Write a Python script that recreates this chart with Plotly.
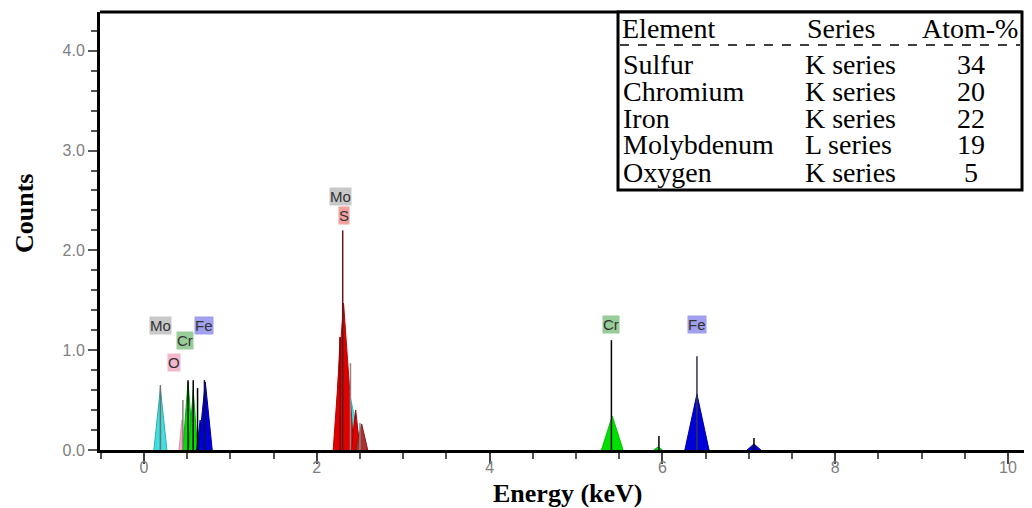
import plotly.graph_objects as go

# ---------------- data ----------------
# spectrum peaks (drawn as filled triangles): energy keV, half-width keV, height counts
peak_energy = [0.19, 2.37, 0.44, 0.51, 0.57, 5.42, 5.95, 0.65, 0.71, 6.40, 7.06, 2.27, 2.31, 2.45, 2.52]
peak_halfwidth = [0.075, 0.15, 0.035, 0.06, 0.05, 0.125, 0.05, 0.04, 0.08, 0.14, 0.08, 0.06, 0.12, 0.05, 0.07]
peak_height = [0.62, 0.60, 0.30, 0.68, 0.60, 0.34, 0.03, 0.30, 0.68, 0.56, 0.06, 1.13, 1.47, 0.40, 0.26]
peak_color = ["#40e0e0", "#40e0e0", "#f4a6bf", "#00e000", "#00e000", "#00e000", "#00e000",
              "#0000d8", "#0000d8", "#0000d8", "#0000d8", "#e00000", "#e00000", "#e00000", "#b03030"]
peak_edge = ["#30b0b0", "#30c0c0", "#e090a8", "#00b000", "#00b000", "#00c000", "#00b000",
             "#0000a0", "#0000a0", "#0000a8", "#0000a0", "#c00000", "#c00000", "#a00000", "#802020"]

# spectrum spikes: energy keV, height counts
spike_energy = [0.19, 0.45, 0.51, 0.57, 0.62, 0.70, 2.30, 2.27, 2.39, 2.50, 5.41, 5.96, 6.40, 7.06]
spike_height = [0.65, 0.50, 0.70, 0.70, 0.62, 0.70, 2.20, 1.13, 0.87, 0.27, 1.10, 0.14, 0.94, 0.12]
spike_color = ["#707070", "#808080", "#000000", "#000000", "#000000", "#101040", "#5a1a1a", "#6a1010",
               "#888888", "#888888", "#000000", "#000000", "#303050", "#000000"]

# element labels
label_text = ["Mo", "Fe", "Cr", "O", "Mo", "S", "Cr", "Fe"]
label_x = [0.19, 0.689, 0.471, 0.351, 2.28, 2.315, 5.405, 6.40]
label_y = [1.252, 1.252, 1.100, 0.880, 2.536, 2.347, 1.255, 1.255]
label_bg = ["#c8c8c8", "#a0a0ee", "#98cc98", "#f4b8cc", "#c8c8c8", "#f2a0a0", "#98cc98", "#a0a0ee"]

# quantification table
tbl_header = ["Element", "Series", "Atom-%"]
tbl_element = ["Sulfur", "Chromium", "Iron", "Molybdenum", "Oxygen"]
tbl_series = ["K series", "K series", "K series", "L series", "K series"]
tbl_atom = ["34", "20", "22", "19", "5"]

x_range = [-0.509, 10.278]
y_range = [0.0, 4.388]

# ---------------- figure ----------------
# the page has an 8px body margin, so the figure is offset by OFF in the window
OFF = 8
W, H = 1032 - OFF, 508 - OFF
ML, MR, MT, MB = 100 - OFF, 0, 12 - OFF, 66 - OFF
PW, PH = W - ML - MR, H - MT - MB


def px_x(p):  # page pixel -> paper x
    return (p - OFF - ML) / PW


def px_y(p):  # page pixel -> paper y
    return (H - MB - (p - OFF)) / PH


fig = go.Figure()

for e, hw, h, c, ec in zip(peak_energy, peak_halfwidth, peak_height, peak_color, peak_edge):
    fig.add_trace(go.Scatter(x=[e - hw, e, e + hw], y=[0, h, 0], mode="lines",
                             fill="toself", fillcolor=c, line=dict(color=ec, width=1),
                             hoverinfo="skip"))

for e, h, c in zip(spike_energy, spike_height, spike_color):
    fig.add_trace(go.Scatter(x=[e, e], y=[0, h], mode="lines",
                             line=dict(color=c, width=1.5), hoverinfo="skip"))

annotations = []
for t, x, y, bg in zip(label_text, label_x, label_y, label_bg):
    annotations.append(dict(text=t, x=x, y=y, xref="x", yref="y", showarrow=False,
                            xanchor="center", yanchor="middle",
                            bgcolor=bg, borderpad=0,
                            font=dict(family="Liberation Sans, Arial, sans-serif", size=15, color="#333333")))

serif = "Liberation Serif, Times New Roman, serif"
tfont = dict(family=serif, size=28, color="black")
row_y = [29, 64, 91, 118, 145, 172]
col_x = [620, 805, 920]
for t, cx in zip(tbl_header, col_x):
    annotations.append(dict(text=t, x=px_x(cx), y=px_y(row_y[0]), xref="paper", yref="paper",
                            xanchor="left", yanchor="middle", showarrow=False, font=tfont))
for i, (el, se, at) in enumerate(zip(tbl_element, tbl_series, tbl_atom)):
    yy = px_y(row_y[i + 1])
    annotations.append(dict(text=el, x=px_x(621), y=yy, xref="paper", yref="paper",
                            xanchor="left", yanchor="middle", showarrow=False, font=tfont))
    annotations.append(dict(text=se, x=px_x(803), y=yy, xref="paper", yref="paper",
                            xanchor="left", yanchor="middle", showarrow=False, font=tfont))
    annotations.append(dict(text=at, x=px_x(971), y=yy, xref="paper", yref="paper",
                            xanchor="center", yanchor="middle", showarrow=False, font=tfont))

tfont_b = dict(family=serif, size=26, color="black")
annotations.append(dict(text="<b>Counts</b>", x=px_x(24), y=px_y(214), xref="paper", yref="paper",
                        xanchor="center", yanchor="middle",
                        textangle=-90, showarrow=False, font=tfont_b))
annotations.append(dict(text="<b>Energy (keV)</b>", x=px_x(567), y=px_y(493), xref="paper", yref="paper",
                        xanchor="center", yanchor="middle",
                        showarrow=False, font=tfont_b))

shapes = [
    dict(type="line", xref="paper", yref="paper", x0=0, x1=px_x(1022), y0=1, y1=1,
         line=dict(color="black", width=3)),
    dict(type="rect", xref="paper", yref="paper", x0=px_x(618), x1=px_x(1022), y0=px_y(190), y1=1,
         line=dict(color="black", width=3), fillcolor="white", layer="above"),
    dict(type="line", xref="paper", yref="paper", x0=px_x(620), x1=px_x(1020), y0=px_y(45), y1=px_y(45),
         line=dict(color="black", width=1.5, dash="dash")),
]

tickfont = dict(family="Liberation Sans, Arial, sans-serif", size=16, color="#808080")
fig.update_layout(
    width=W, height=H, margin=dict(l=ML, r=MR, t=MT, b=MB, pad=0),
    plot_bgcolor="white", paper_bgcolor="white", showlegend=False,
    annotations=annotations, shapes=shapes,
    xaxis=dict(range=x_range, showline=True, linecolor="black", linewidth=3,
               ticks="outside", ticklen=11, tickwidth=1.5, tickcolor="#444444",
               tick0=0, dtick=2, tickfont=tickfont, ticklabelstandoff=-10,
               showgrid=False, zeroline=False,
               minor=dict(dtick=0.5, tick0=0, ticks="outside", ticklen=6, tickwidth=1.5,
                          tickcolor="#555555", showgrid=False)),
    yaxis=dict(range=y_range, showline=True, linecolor="black", linewidth=3,
               ticks="outside", ticklen=9, tickwidth=1.5, tickcolor="#555555",
               tick0=0, dtick=1, tickformat=".1f", tickfont=tickfont, showgrid=False, zeroline=False,
               minor=dict(dtick=0.2, tick0=0, ticks="outside", ticklen=6, tickwidth=1.5,
                          tickcolor="#555555", showgrid=False)),
)

fig.write_html("out.html")
